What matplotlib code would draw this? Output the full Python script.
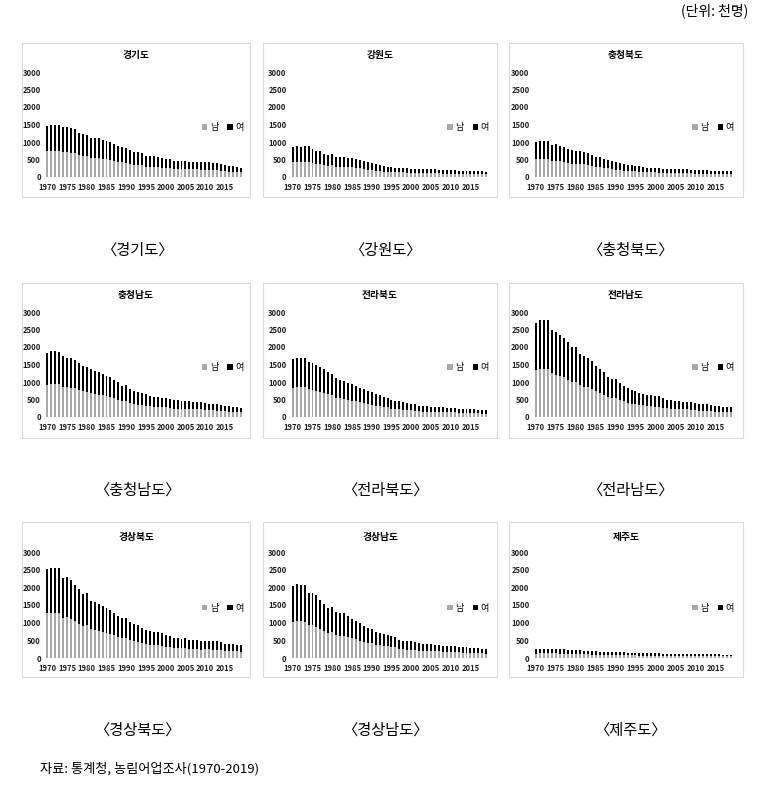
import matplotlib
matplotlib.use("Agg")
import matplotlib.pyplot as plt
from matplotlib.patches import Patch, Rectangle

plt.rcParams['font.family'] = ['Noto Sans CJK KR', 'DejaVu Sans']

years = list(range(1970, 2020))
xticks = list(range(1970, 2016, 5))
yticks = list(range(0, 3001, 500))

# 농가인구 (천명), 1970-2019, 남 / 여
gyeonggi_m = [740, 750, 750, 745, 720, 715, 695, 680, 630, 605, 590, 550, 550, 550, 525, 510, 495, 470, 440, 425,
              405, 380, 355, 355, 340, 290, 290, 290, 280, 265, 250, 255, 230, 230, 230, 225, 215, 215, 215, 210,
              205, 205, 200, 190, 180, 170, 155, 150, 140, 130]
gyeonggi_f = [730, 740, 745, 745, 710, 715, 695, 690, 640, 615, 600, 560, 560, 560, 535, 520, 505, 480, 450, 435,
              415, 390, 365, 365, 350, 300, 300, 300, 290, 275, 260, 265, 240, 240, 240, 235, 225, 225, 225, 220,
              215, 215, 210, 200, 190, 180, 165, 160, 150, 140]

gangwon_m = [435, 440, 430, 440, 440, 395, 370, 365, 330, 310, 330, 290, 290, 285, 275, 275, 255, 245, 230, 210,
             200, 185, 165, 155, 150, 140, 135, 135, 130, 125, 120, 120, 110, 110, 110, 110, 110, 105, 100, 100,
             95, 95, 90, 90, 88, 85, 82, 82, 80, 75]
gangwon_f = [435, 440, 430, 440, 440, 395, 370, 365, 330, 310, 330, 290, 290, 285, 275, 275, 255, 245, 230, 210,
             200, 185, 165, 155, 150, 140, 135, 135, 130, 125, 120, 120, 110, 110, 110, 110, 110, 105, 100, 100,
             95, 95, 90, 90, 87, 85, 83, 83, 80, 75]

chungbuk_m = [505, 515, 520, 515, 460, 470, 450, 435, 400, 380, 370, 370, 360, 340, 320, 290, 280, 255, 245, 225,
              210, 195, 185, 175, 165, 160, 155, 150, 135, 130, 130, 125, 120, 120, 115, 110, 110, 110, 110, 105,
              100, 97, 97, 95, 92, 90, 87, 85, 82, 80]
chungbuk_f = [505, 515, 520, 515, 460, 470, 450, 435, 400, 380, 370, 370, 360, 340, 320, 290, 280, 255, 245, 225,
              210, 195, 185, 175, 165, 160, 155, 150, 135, 130, 130, 125, 120, 120, 115, 110, 110, 110, 110, 105,
              100, 98, 98, 95, 93, 90, 88, 85, 83, 80]

chungnam_m = [915, 940, 940, 935, 870, 850, 840, 820, 770, 735, 710, 680, 655, 640, 615, 590, 570, 530, 500, 445,
              455, 405, 375, 355, 340, 325, 305, 290, 280, 275, 275, 260, 240, 240, 230, 230, 225, 220, 220, 215,
              200, 190, 190, 185, 170, 160, 155, 150, 145, 135]
chungnam_f = [915, 940, 940, 935, 870, 850, 840, 820, 770, 735, 710, 680, 655, 640, 615, 590, 570, 530, 500, 445,
              455, 405, 375, 355, 340, 325, 305, 290, 280, 275, 275, 260, 240, 240, 230, 230, 225, 220, 220, 215,
              200, 190, 190, 185, 170, 160, 155, 150, 145, 135]

jeonbuk_m = [830, 845, 845, 845, 790, 775, 740, 720, 685, 645, 615, 555, 530, 520, 490, 470, 450, 420, 395, 370,
             355, 325, 310, 290, 275, 240, 235, 225, 210, 195, 190, 180, 160, 155, 155, 150, 150, 145, 140, 135,
             135, 130, 120, 120, 120, 110, 110, 105, 100, 95]
jeonbuk_f = [830, 845, 845, 845, 790, 775, 740, 720, 685, 645, 615, 555, 530, 520, 490, 470, 450, 420, 395, 370,
             355, 325, 310, 290, 275, 240, 235, 225, 210, 195, 190, 180, 160, 155, 155, 150, 150, 145, 140, 135,
             135, 130, 120, 120, 120, 110, 110, 105, 100, 95]

jeonnam_m = [1340, 1385, 1385, 1385, 1245, 1210, 1165, 1135, 1070, 1005, 995, 905, 870, 845, 800, 730, 685, 640,
             575, 540, 540, 480, 445, 410, 385, 365, 350, 335, 320, 310, 300, 295, 265, 250, 240, 230, 225, 220,
             220, 210, 200, 185, 185, 180, 175, 155, 155, 150, 150, 145]
jeonnam_f = [1340, 1385, 1385, 1385, 1245, 1210, 1165, 1135, 1070, 1005, 995, 905, 870, 845, 800, 730, 685, 640,
             575, 540, 540, 480, 445, 410, 385, 365, 350, 335, 320, 310, 300, 295, 265, 250, 240, 230, 225, 220,
             220, 210, 200, 185, 185, 180, 175, 155, 155, 150, 150, 145]

gyeongbuk_m = [1260, 1275, 1275, 1270, 1135, 1150, 1105, 1040, 970, 910, 925, 810, 795, 770, 740, 705, 675, 640,
               600, 560, 560, 505, 480, 460, 430, 395, 380, 370, 370, 350, 325, 310, 285, 280, 275, 280, 250, 250,
               250, 240, 245, 245, 235, 235, 230, 200, 200, 200, 190, 180]
gyeongbuk_f = [1260, 1275, 1275, 1270, 1135, 1150, 1105, 1040, 970, 910, 925, 810, 795, 770, 740, 705, 675, 640,
               600, 560, 560, 505, 480, 460, 430, 395, 380, 370, 370, 350, 325, 310, 285, 280, 275, 280, 250, 250,
               250, 240, 245, 245, 235, 235, 230, 200, 200, 200, 190, 180]

gyeongnam_m = [1025, 1045, 1040, 1030, 920, 920, 885, 820, 770, 710, 725, 655, 635, 630, 595, 555, 525, 495, 455,
               420, 415, 370, 360, 345, 330, 305, 300, 255, 245, 235, 235, 230, 210, 200, 200, 195, 190, 190, 175,
               170, 170, 170, 160, 155, 150, 145, 140, 135, 130, 125]
gyeongnam_f = [1025, 1045, 1040, 1030, 920, 920, 885, 820, 770, 710, 725, 655, 635, 630, 595, 555, 525, 495, 455,
               420, 415, 370, 360, 345, 330, 305, 300, 255, 245, 235, 235, 230, 210, 200, 200, 195, 190, 190, 175,
               170, 170, 170, 160, 155, 150, 145, 140, 135, 130, 125]

jeju_m = [125, 130, 130, 130, 130, 130, 125, 125, 120, 120, 120, 110, 105, 100, 95, 95, 90, 90, 90, 85,
          85, 80, 80, 75, 75, 75, 70, 70, 70, 65, 65, 65, 60, 60, 60, 55, 55, 50, 50, 50,
          55, 55, 55, 55, 55, 50, 50, 45, 45, 45]
jeju_f = [125, 130, 130, 130, 130, 130, 125, 125, 120, 120, 120, 110, 105, 100, 95, 95, 90, 90, 90, 85,
          85, 80, 80, 75, 75, 75, 70, 70, 70, 65, 65, 65, 60, 60, 60, 55, 55, 50, 50, 50,
          55, 55, 55, 55, 55, 50, 50, 45, 45, 45]

names = ["경기도", "강원도", "충청북도", "충청남도", "전라북도", "전라남도", "경상북도", "경상남도", "제주도"]
males = [gyeonggi_m, gangwon_m, chungbuk_m, chungnam_m, jeonbuk_m, jeonnam_m, gyeongbuk_m, gyeongnam_m, jeju_m]
females = [gyeonggi_f, gangwon_f, chungbuk_f, chungnam_f, jeonbuk_f, jeonnam_f, gyeongbuk_f, gyeongnam_f, jeju_f]

W, H = 775, 791
fig = plt.figure(figsize=(W / 100, H / 100), dpi=100)


def fx(x):
    return x / W


def fy(y):
    return 1 - y / H


# layout in pixels
col_frame = [(22, 250), (263, 497), (509, 743)]
row_frame = [(43, 197), (283, 438), (522, 677)]
col_axes = [(44.5, 243.5), (290, 489), (533, 734)]
row_axes = [(72, 177), (312, 417), (552, 658)]
title_y = [55, 295, 537]
cap_x = [137, 385, 630]
cap_y = [250, 490, 730]

male_color = '#a9a9a9'

for i in range(9):
    r, c = divmod(i, 3)
    x0, x1 = col_frame[c]
    y0, y1 = row_frame[r]
    fig.patches.append(Rectangle((fx(x0), fy(y1)), fx(x1) - fx(x0), fy(y0) - fy(y1),
                                 transform=fig.transFigure, fill=False, ec='#d9d9d9', lw=0.8))
    a0, a1 = col_axes[c]
    b0, b1 = row_axes[r]
    ax = fig.add_axes([fx(a0), fy(b1), fx(a1) - fx(a0), fy(b0) - fy(b1)])
    ax.bar(years, males[i], width=0.5, color=male_color)
    ax.bar(years, females[i], width=0.5, bottom=males[i], color='black')
    ax.set_xlim(1969.3, 2019.7)
    ax.set_ylim(0, 3000)
    ax.set_xticks(xticks)
    ax.set_yticks(yticks)
    ax.tick_params(length=0, labelsize=5.5, colors='#222222')
    ax.tick_params(axis='x', pad=4.5)
    ax.tick_params(axis='y', pad=2.5)
    for lab in ax.get_xticklabels() + ax.get_yticklabels():
        lab.set_fontweight('bold')
    for s in ax.spines.values():
        s.set_visible(False)
    ax.legend([Patch(fc=male_color), Patch(fc='black')], ['남', '여'], ncol=2,
              loc='center right', bbox_to_anchor=(1.0, 0.47), frameon=False, fontsize=6.5,
              handlelength=0.6, handleheight=0.6, handletextpad=0.3, columnspacing=1.0,
              borderpad=0, borderaxespad=0)
    fig.text(fx((x0 + x1) / 2), fy(title_y[r]), names[i], ha='center', va='center',
             fontsize=7, fontweight='bold')
    fig.text(fx(cap_x[c]), fy(cap_y[r]), '〈' + names[i] + '〉', ha='center', va='center',
             fontsize=11)

fig.text(fx(748), fy(11), '(단위: 천명)', ha='right', va='center', fontsize=10)
fig.text(fx(40), fy(769), '자료: 통계청, 농림어업조사(1970-2019)', ha='left', va='center', fontsize=9.5)

fig.savefig('out.png', dpi=100, facecolor='white')
